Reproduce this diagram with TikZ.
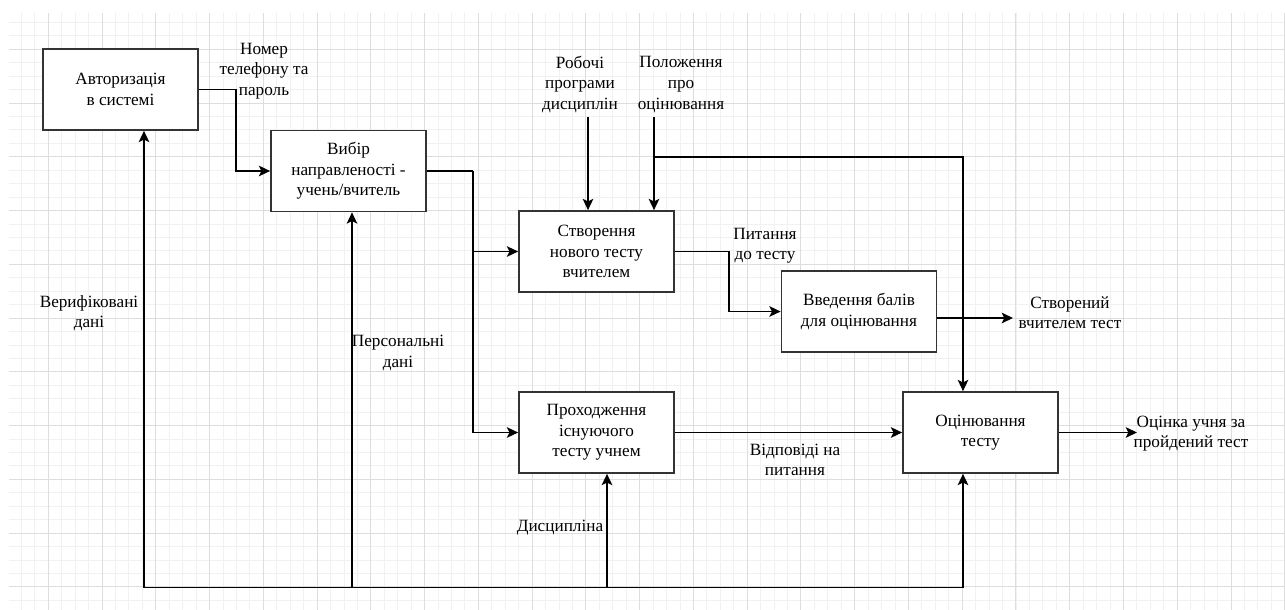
\documentclass[tikz,border=0pt]{standalone}
\usepackage{fontspec}
\setmainfont{Liberation Serif}
\usetikzlibrary{arrows.meta}
\definecolor{gridminor}{HTML}{F1F1F1}
\definecolor{gridmajor}{HTML}{DDDDDD}
\definecolor{boxline}{HTML}{333333}
\begin{document}
\begin{tikzpicture}[x=0.75pt,y=-0.75pt,
  every node/.style={font=\fontsize{12.9pt}{15.4pt}\selectfont, align=center, inner sep=0pt},
  box/.style={draw=boxline, line width=1.3pt, fill=white, minimum width=116.25pt, minimum height=60.75pt},
  conn/.style={draw=black, line width=1.1pt},
  arr/.style={conn, -{Stealth[length=8.5pt, width=8pt, inset=2pt]}},
  minorline/.style={draw=gridminor, line width=0.75pt},
  majorline/.style={draw=gridmajor, line width=0.75pt}]
\useasboundingbox (0,0) rectangle (1285,610);
\fill[white] (0,0) rectangle (1285,610);
% grid
\begin{scope}
\clip (9,13) rectangle (1285,610);
\foreach \i in {0,...,95} \draw[minorline] ({8+13.44*\i},13) -- ({8+13.44*\i},610);
\foreach \i in {1,...,45} \draw[minorline] (9,{9+13.44*\i}) -- (1285,{9+13.44*\i});
\foreach \i in {0,...,23} \draw[majorline] ({48.3+53.76*\i},13) -- ({48.3+53.76*\i},610);
\foreach \i in {0,...,10} \draw[majorline] (9,{49.3+53.76*\i}) -- (1285,{49.3+53.76*\i});
\end{scope}
% boxes
\node[box] (A) at (120.5,89.5) {Авторизація\\в системі};
\node[box] (B) at (348.5,171) {Вибір\\направленості -\\учень/вчитель};
\node[box] (C) at (596.5,251.5) {Створення\\нового тесту\\вчителем};
\node[box] (D) at (859,311.5) {Введення балів\\для оцінювання};
\node[box] (E) at (596.5,432.5) {Проходження\\існуючого\\тесту учнем};
\node[box] (F) at (980.5,432.5) {Оцінювання\\тесту};
% coordinates
\coordinate (in1) at (588,117);
\coordinate (in2) at (654,117);
\coordinate (split) at (654,157);
\coordinate (fx) at (963,0);
\coordinate (dout) at (1013,318);
\coordinate (fout) at (1137,432.5);
\coordinate (busl) at (144,587.5);
\coordinate (bus2) at (352,587.5);
\coordinate (bus3) at (607,587.5);
% connectors
\draw[arr] (A.east) -- ++(37,0) |- (B.west);
\draw[conn] (B.east) -- ++(46,0) coordinate (j1);
\draw[arr] (j1) |- (C.west);
\draw[arr] (j1) |- (E.west);
\draw[arr] (C.east) -- ++(54,0) |- (D.west);
\draw[arr] (D.east |- dout) -- (dout);
\draw[arr] (in1) -- (in1 |- C.north);
\draw[arr] (in2) -- (in2 |- C.north);
\draw[arr] (split) -| (fx |- F.north);
\draw[arr] (E.east) -- (F.west);
\draw[arr] (F.east) -- (fout);
\draw[arr] (busl) -| (fx |- F.south);
\draw[arr] (busl) -- (busl |- A.south);
\draw[arr] (bus2) -- (bus2 |- B.south);
\draw[arr] (bus3) -- (bus3 |- E.south);
% labels
\node (l1) at (264,71) {Номер\\телефону та\\пароль};
\node (l2) at (580,84.5) {Робочі\\програми\\дисциплін};
\node (l3) at (681,84.5) {Положення\\про\\оцінювання};
\node (l4) at (765,245.5) {Питання\\до тесту};
\node (l5) at (1070,312.5) {Створений\\вчителем тест};
\node (l6) at (89,313) {Верифіковані\\дані};
\node (l7) at (398,353) {Персональні\\дані};
\node (l8) at (560,528) {Дисципліна};
\node (l9) at (795,460) {Відповіді на\\питання};
\node (l10) at (1191,433.5) {Оцінка учня за\\пройдений тест};
\end{tikzpicture}
\end{document}
